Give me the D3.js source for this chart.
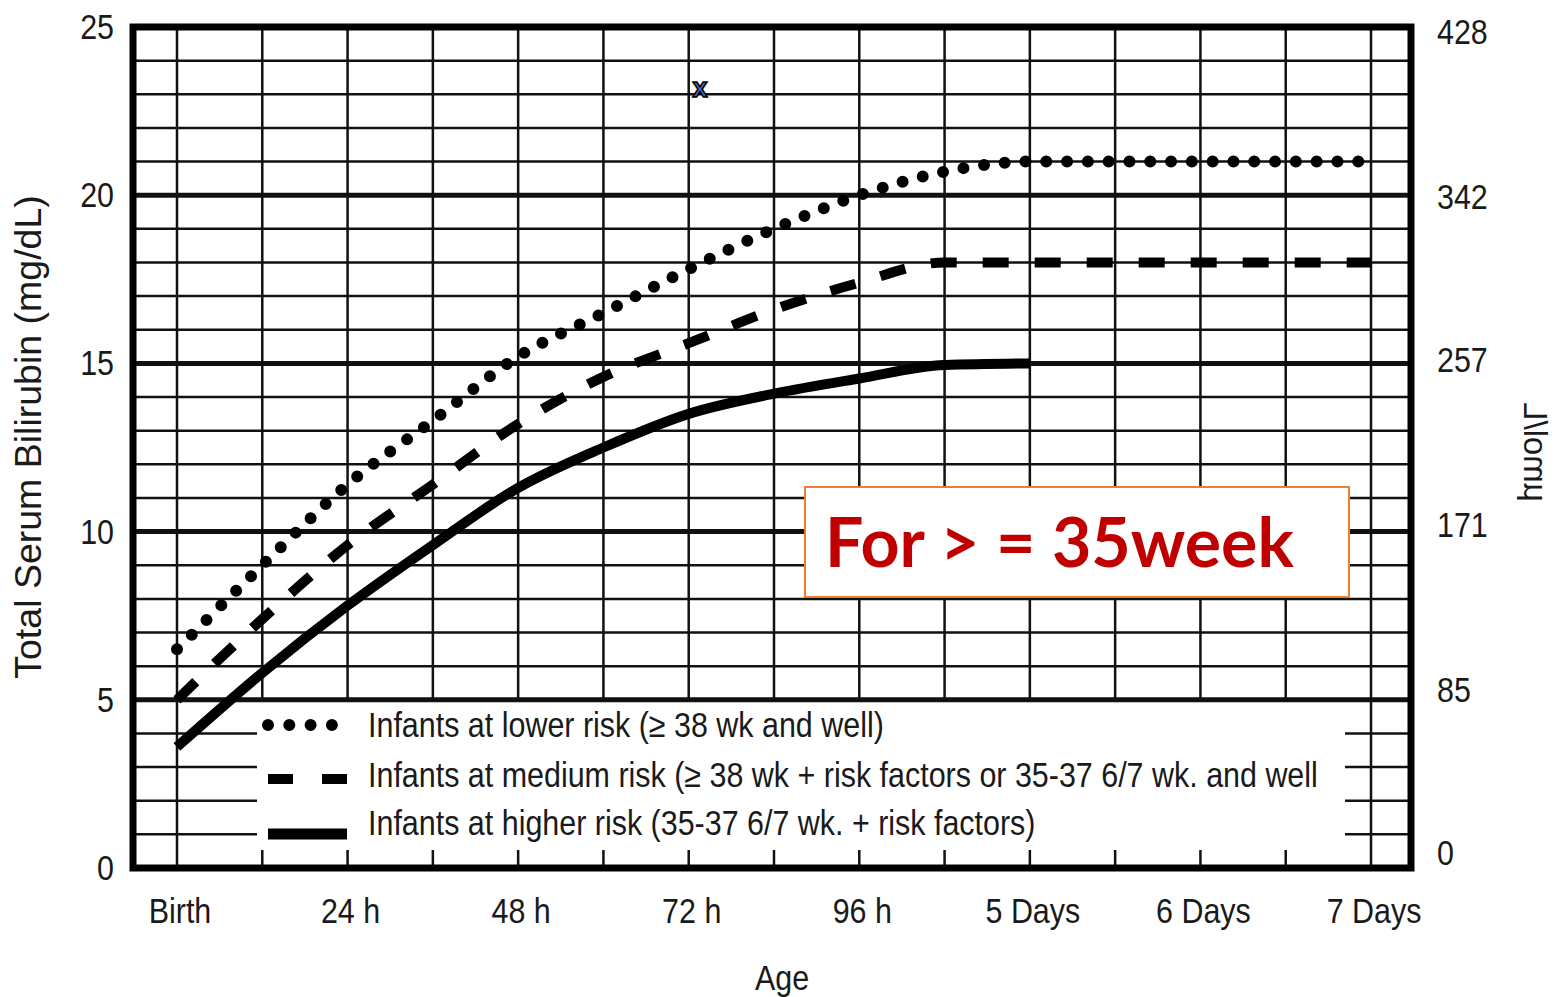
<!DOCTYPE html>
<html>
<head>
<meta charset="utf-8">
<script src="https://cdn.jsdelivr.net/npm/d3@7"></script>
<style>
  body { margin: 0; background: #fff; }
  text { fill: #1a1a1a; }
</style>
</head>
<body>
<script>
"use strict";

// ---- data ----
var hours = [0, 12, 24, 36, 48, 60, 72, 84, 96, 108, 120, 132, 144, 156, 168];
var lowerRisk  = [6.5, 9.0, 11.4, 13.3, 15.2, 16.5, 17.8, 19.0, 20.0, 20.7, 21.0, 21.0, 21.0, 21.0, 21.0];
var mediumRisk = [5.0, 7.4, 9.6, 11.4, 13.2, 14.6, 15.6, 16.6, 17.4, 18.0, 18.0, 18.0, 18.0, 18.0, 18.0];
var higherRisk = [3.6, 5.8, 7.8, 9.6, 11.3, 12.5, 13.5, 14.1, 14.55, 14.95, 15.0];

var xTickHours  = [0, 24, 48, 72, 96, 120, 144, 168];
var xTickLabels = ["Birth", "24 h", "48 h", "72 h", "96 h", "5 Days", "6 Days", "7 Days"];
var yTicks      = [0, 5, 10, 15, 20, 25];
var umolTicks   = [0, 85, 171, 257, 342, 428];

var legendLabels = [
    "Infants at lower risk (\u2265 38 wk and well)",
    "Infants at medium risk (\u2265 38 wk + risk factors or 35-37 6/7 wk. and well",
    "Infants at higher risk (35-37 6/7 wk. + risk factors)"
];
var noteText = "For > = 35week";
var markerPoint = [{ h: 73.6, v: 23.2 }];

// ---- layout ----
var width = 1557, height = 997;
var frameLeft = 133, frameRight = 1411, frameTop = 27, frameBottom = 868;
var legendLeft = 257, legendRight = 1345;
var sans = "'Liberation Sans', Arial, sans-serif";
var squeeze = 0.87;   // the original type is a condensed face

var x = d3.scaleLinear().domain([0, 168]).range([177, 1371]);
var y = d3.scaleLinear().domain([0, 25]).range([frameBottom, frameTop]);
var yRight = d3.scaleLinear().domain([0, 428]).range([853, 32]);

var svg = d3.select("body").append("svg")
    .attr("width", width)
    .attr("height", height)
    .style("background-color", "#fff");

function placeNarrow(px, py) {
    return "translate(" + px + "," + py + ") scale(" + squeeze + ",1)";
}

var grid = svg.append("g").attr("stroke", "#111").attr("fill", "none");

// horizontal lines, every 1 mg/dL
d3.range(1, 25).forEach(function(v) {
    var major = v % 5 === 0;
    if (v < 5) {
        grid.append("line").attr("x1", frameLeft).attr("x2", legendLeft)
            .attr("y1", y(v)).attr("y2", y(v)).attr("stroke-width", 2.5);
        grid.append("line").attr("x1", legendRight).attr("x2", frameRight)
            .attr("y1", y(v)).attr("y2", y(v)).attr("stroke-width", 2.5);
    } else {
        grid.append("line").attr("x1", frameLeft).attr("x2", frameRight)
            .attr("y1", y(v)).attr("y2", y(v)).attr("stroke-width", major ? 5 : 2.5);
    }
});

// vertical lines every 12 h
hours.forEach(function(h) {
    if (h === 0 || h === 168) {
        grid.append("line").attr("x1", x(h)).attr("x2", x(h))
            .attr("y1", y(0)).attr("y2", y(25)).attr("stroke-width", 2.5);
    } else {
        grid.append("line").attr("x1", x(h)).attr("x2", x(h))
            .attr("y1", y(5)).attr("y2", y(25)).attr("stroke-width", 2.5);
        grid.append("line").attr("x1", x(h)).attr("x2", x(h))
            .attr("y1", y(0) - 18).attr("y2", y(0)).attr("stroke-width", 2.5);
    }
});

// ---- curves ----
var line = d3.line()
    .x(function(d) { return x(d.h); })
    .y(function(d) { return y(d.v); })
    .curve(d3.curveMonotoneX);

function pts(vals) {
    return vals.map(function(v, i) { return { h: hours[i], v: v }; });
}

svg.append("path").datum(pts(higherRisk))
    .attr("d", line).attr("fill", "none").attr("stroke", "#000")
    .attr("stroke-width", 10).attr("stroke-linejoin", "round");

svg.append("path").datum(pts(mediumRisk))
    .attr("d", line).attr("fill", "none").attr("stroke", "#000")
    .attr("stroke-width", 10).attr("stroke-dasharray", "26 26");

svg.append("path").datum(pts(lowerRisk))
    .attr("d", line).attr("fill", "none").attr("stroke", "#000")
    .attr("stroke-width", 12).attr("stroke-linecap", "round")
    .attr("stroke-dasharray", "0 20.8");

// ---- frame ----
svg.append("rect")
    .attr("x", frameLeft).attr("y", frameTop)
    .attr("width", frameRight - frameLeft).attr("height", frameBottom - frameTop)
    .attr("fill", "none").attr("stroke", "#000").attr("stroke-width", 7);

// ---- axes labels ----
svg.append("g").selectAll("text")
    .data(yTicks).enter().append("text")
    .attr("transform", function(d) { return placeNarrow(114, y(d) + 12); })
    .attr("text-anchor", "end")
    .style("font-family", sans).style("font-size", "35px")
    .text(function(d) { return d; });

svg.append("g").selectAll("text")
    .data(umolTicks).enter().append("text")
    .attr("transform", function(d) { return placeNarrow(1437, yRight(d) + 12); })
    .style("font-family", sans).style("font-size", "35px")
    .text(function(d) { return d; });

svg.append("g").selectAll("text")
    .data(xTickHours).enter().append("text")
    .attr("transform", function(d) { return placeNarrow(x(d) + 3, 923); })
    .attr("text-anchor", "middle")
    .style("font-family", sans).style("font-size", "35px")
    .text(function(d, i) { return xTickLabels[i]; });

svg.append("text")
    .attr("transform", "translate(41,437) rotate(-90)")
    .attr("text-anchor", "middle")
    .style("font-family", sans).style("font-size", "37.5px")
    .text("Total Serum Bilirubin (mg/dL)");

// the original shows this label mirrored
svg.append("text")
    .attr("transform", "matrix(0,-1,-1,0,1524,452)")
    .attr("text-anchor", "middle")
    .style("font-family", sans).style("font-size", "33px")
    .text("\u00b5mol/L");

svg.append("text")
    .attr("transform", placeNarrow(782, 990))
    .attr("text-anchor", "middle")
    .style("font-family", sans).style("font-size", "35px")
    .text("Age");

// ---- legend ----
var legendRows = [725, 775, 823];
var leg = svg.append("g");
leg.append("line").attr("x1", 268).attr("x2", 334)
    .attr("y1", legendRows[0]).attr("y2", legendRows[0])
    .attr("stroke", "#000").attr("stroke-width", 12)
    .attr("stroke-linecap", "round").attr("stroke-dasharray", "0 21.3");
leg.append("line").attr("x1", 268).attr("x2", 347)
    .attr("y1", legendRows[1] + 4).attr("y2", legendRows[1] + 4)
    .attr("stroke", "#000").attr("stroke-width", 10)
    .attr("stroke-dasharray", "25 29");
leg.append("line").attr("x1", 268).attr("x2", 347)
    .attr("y1", legendRows[2] + 11).attr("y2", legendRows[2] + 11)
    .attr("stroke", "#000").attr("stroke-width", 11);
leg.selectAll("text")
    .data(legendLabels).enter().append("text")
    .attr("transform", function(d, i) { return placeNarrow(368, legendRows[i] + 12); })
    .style("font-family", sans).style("font-size", "35px")
    .text(function(d) { return d; });

// ---- annotation ----
svg.append("rect")
    .attr("x", 805).attr("y", 487).attr("width", 544).attr("height", 110)
    .attr("fill", "#fff").attr("stroke", "#ED7D31").attr("stroke-width", 2);
svg.append("text")
    .attr("x", 825).attr("y", 567)
    .style("font-family", "Lato, 'Open Sans', sans-serif")
    .style("font-weight", "bold").style("font-size", "68px")
    .style("fill", "#C00000")
    .text(noteText);

// small blue mark near the top
svg.selectAll(".mark")
    .data(markerPoint).enter().append("text")
    .attr("class", "mark")
    .attr("x", function(d) { return x(d.h); })
    .attr("y", function(d) { return y(d.v) + 9; })
    .attr("text-anchor", "middle")
    .style("font-family", sans).style("font-weight", "bold").style("font-size", "27px")
    .style("fill", "#3a6fc4").style("stroke", "#000").style("stroke-width", 1.5)
    .text("x");
</script>
</body>
</html>
